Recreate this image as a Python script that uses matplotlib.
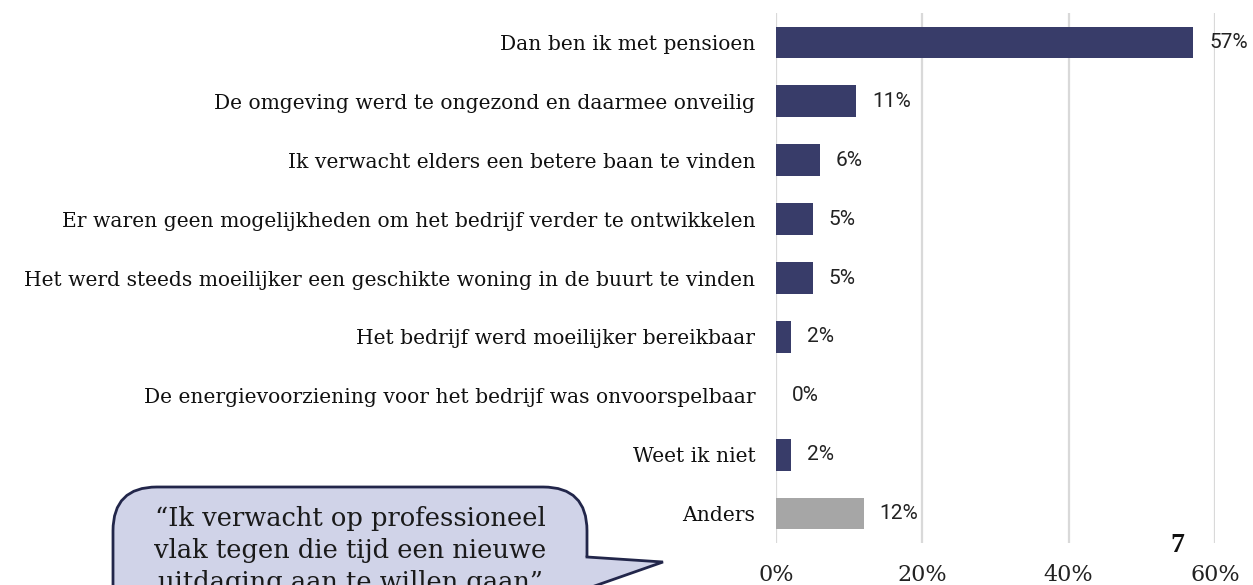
import matplotlib
matplotlib.use("Agg")
import matplotlib.pyplot as plt
from matplotlib.patches import FancyBboxPatch, Polygon
from matplotlib.lines import Line2D

categories = [
    "Dan ben ik met pensioen",
    "De omgeving werd te ongezond en daarmee onveilig",
    "Ik verwacht elders een betere baan te vinden",
    "Er waren geen mogelijkheden om het bedrijf verder te ontwikkelen",
    "Het werd steeds moeilijker een geschikte woning in de buurt te vinden",
    "Het bedrijf werd moeilijker bereikbaar",
    "De energievoorziening voor het bedrijf was onvoorspelbaar",
    "Weet ik niet",
    "Anders",
]
values = [57, 11, 6, 5, 5, 2, 0, 2, 12]
bar_colors = ["#383c69"] * 8 + ["#a6a6a6"]
xticks = [0, 20, 40, 60]
xticklabels = ["0%", "20%", "40%", "60%"]
quote_lines = [
    "\u201cIk verwacht op professioneel",
    "vlak tegen die tijd een nieuwe",
    "uitdaging aan te willen gaan\u201d",
]
page_number = "7"

W, H = 1253, 585
fig = plt.figure(figsize=(W / 100, H / 100), dpi=100)
fig.patch.set_facecolor("white")

def fx(x):
    return x / W

def fy(y):
    return 1 - y / H

ax = fig.add_axes([fx(776), fy(543), fx(1215) - fx(776), fy(13) - fy(543)])
ypos = list(range(len(categories)))
ax.barh(ypos, values, height=0.54, color=bar_colors, zorder=3)
ax.set_xlim(0, 60)
ax.set_ylim(len(categories) - 0.5, -0.5)
ax.set_xticks(xticks)
ax.set_xticklabels(xticklabels, family="DejaVu Serif", fontsize=16, color="#222222")
ax.set_yticks(ypos)
ax.set_yticklabels(categories, family="DejaVu Serif", fontsize=14, color="#111111")
ax.tick_params(axis="both", length=0)
ax.tick_params(axis="y", pad=15)
ax.tick_params(axis="x", pad=15)
for s in ax.spines.values():
    s.set_visible(False)
ax.grid(axis="x", color="#d9d9d9", linewidth=1.6, zorder=0)
ax.set_axisbelow(True)

# scale category font so the longest label spans like the reference (~735 px)
renderer = fig.canvas.get_renderer()
labels = ax.get_yticklabels()
widest = max(l.get_window_extent(renderer).width for l in labels)
new_size = 14 * 735 / widest
for l in labels:
    l.set_fontsize(new_size)

for y, v in zip(ypos, values):
    ax.annotate(f"{v}%", xy=(v, y), xytext=(11.5, 0), textcoords="offset points",
                va="center", ha="left", family="Roboto", fontsize=15, color="#222222")

# page number
fig.text(fx(1177), fy(545), page_number, family="Liberation Serif", weight="bold",
         fontsize=20, color="#111111", ha="center", va="center")

# speech bubble
fill = "#d0d3e8"
edge = "#22264a"
x0, x1 = 113, 587
y_top, y_bot = 487, 640
box = FancyBboxPatch((fx(x0), fy(y_bot)), fx(x1) - fx(x0), fy(y_top) - fy(y_bot),
                     boxstyle="round,pad=0,rounding_size=0.035",
                     transform=fig.transFigure, facecolor=fill, edgecolor=edge,
                     linewidth=2, mutation_aspect=W / H, zorder=5)
fig.add_artist(box)
tip = (663, 562)
tail_fill = Polygon([(fx(x1 - 3), fy(557)), (fx(tip[0]), fy(tip[1])), (fx(x1 - 3), fy(590))],
                    closed=True, transform=fig.transFigure, facecolor=fill,
                    edgecolor="none", zorder=6)
fig.add_artist(tail_fill)
fig.add_artist(Line2D([fx(x1), fx(tip[0]), fx(x1 - 1)], [fy(557), fy(tip[1]), fy(589)],
                      transform=fig.transFigure, color=edge, linewidth=2, zorder=7,
                      solid_joinstyle="miter"))

line_base = [526, 558, 590]
for txt, yy in zip(quote_lines, line_base):
    fig.text(fx(350), fy(yy), txt, family="DejaVu Serif", fontsize=18.5,
             color="#1a1a1a", ha="center", va="baseline", zorder=8)

fig.savefig("out.png", dpi=100)
